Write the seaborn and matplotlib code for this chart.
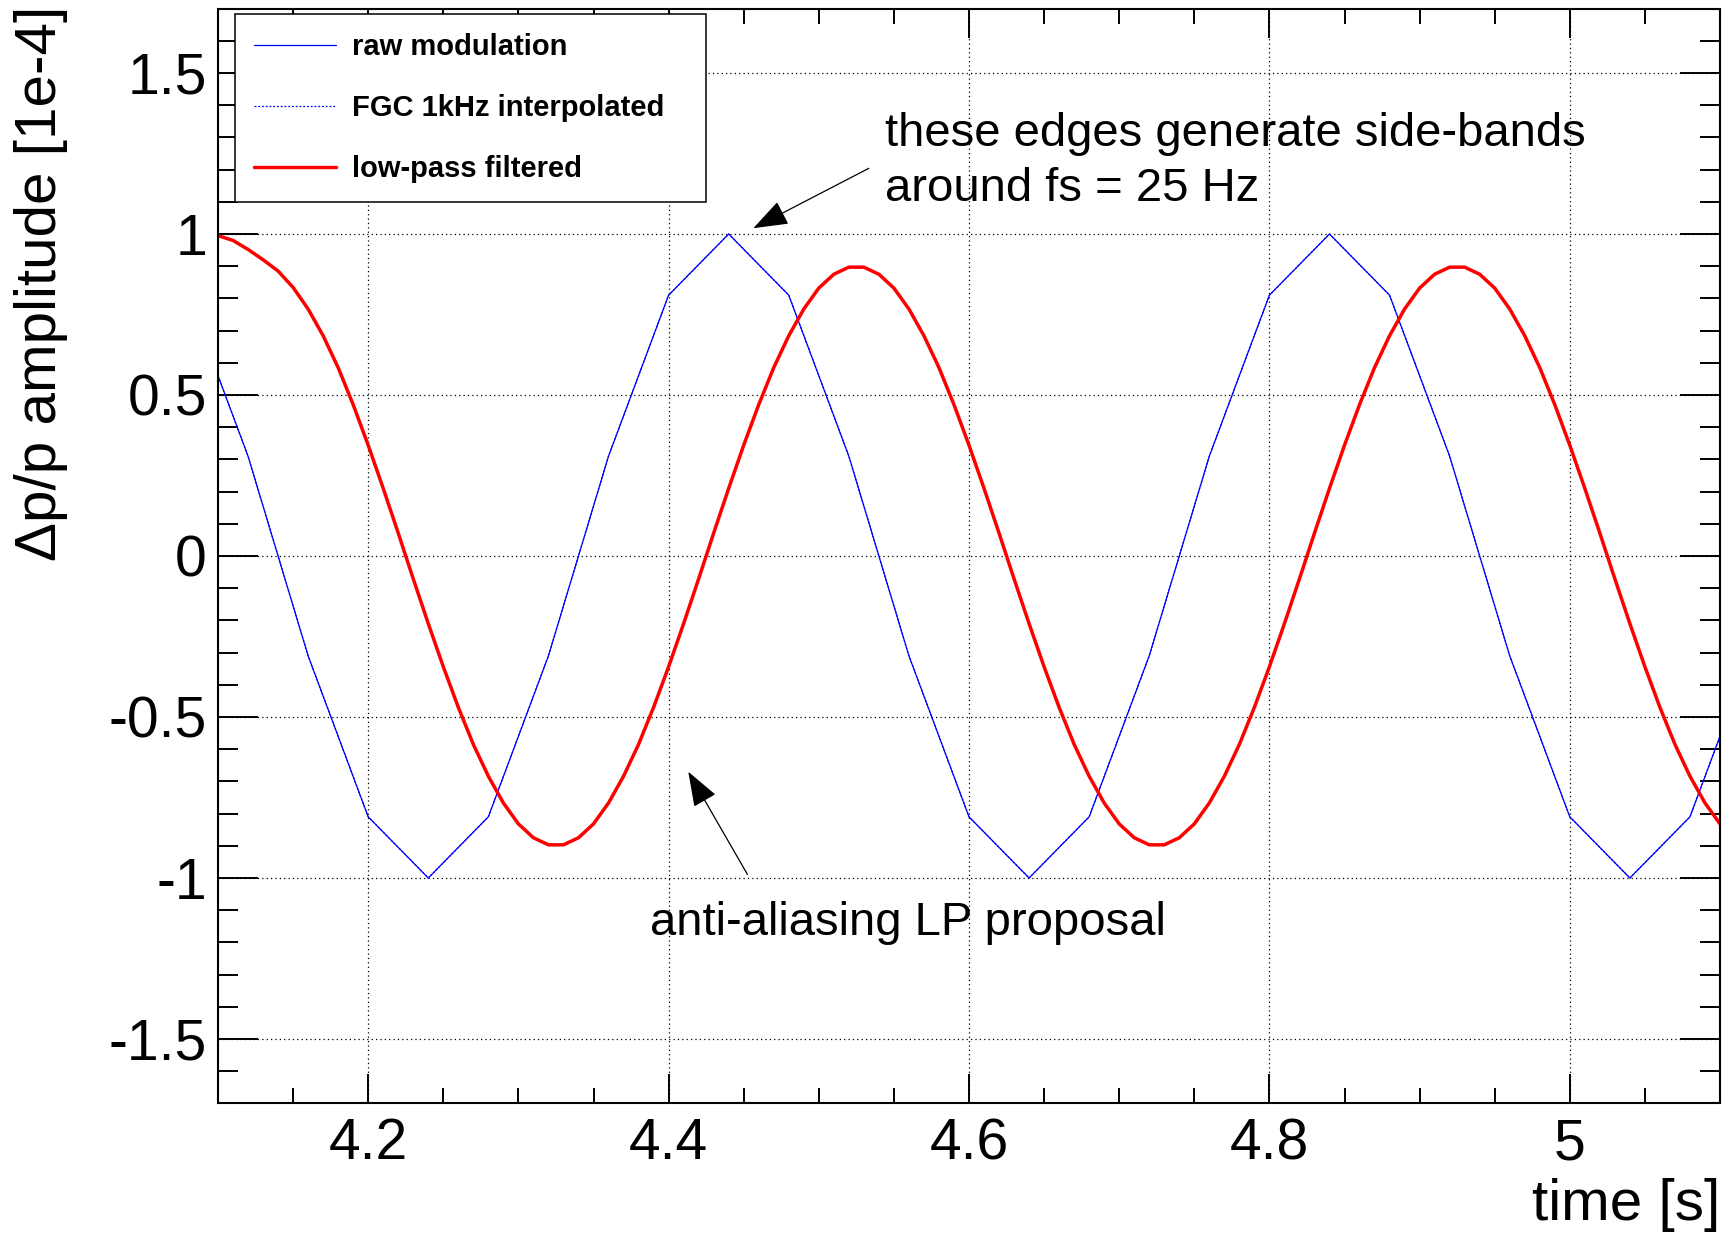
import numpy as np
import pandas as pd
import matplotlib
matplotlib.use("Agg")
import matplotlib.pyplot as plt
import seaborn as sns
from matplotlib.ticker import MultipleLocator, FuncFormatter

# ---------------- data ----------------
# raw modulation: 2.5 Hz sine sampled at 25 Hz, linearly joined
raw_time = [4.08, 4.12, 4.16, 4.20, 4.24, 4.28, 4.32, 4.36, 4.40, 4.44,
            4.48, 4.52, 4.56, 4.60, 4.64, 4.68, 4.72, 4.76, 4.80, 4.84,
            4.88, 4.92, 4.96, 5.00, 5.04, 5.08, 5.12]
raw_mod = [0.81, 0.31, -0.31, -0.81, -1.00, -0.81, -0.31, 0.31, 0.81, 1.00,
           0.81, 0.31, -0.31, -0.81, -1.00, -0.81, -0.31, 0.31, 0.81, 1.00,
           0.81, 0.31, -0.31, -0.81, -1.00, -0.81, -0.31]

# low-pass filtered signal, sampled every 10 ms from 4.10 s to 5.10 s
lp_time = np.round(np.arange(4.10, 5.1001, 0.01), 2)
lp_vals = [0.995, 0.980, 0.952, 0.920, 0.885, 0.834, 0.767, 0.684, 0.585, 0.470,
           0.344, 0.210, 0.071, -0.071, -0.210, -0.344, -0.470, -0.585, -0.684, -0.767,
           -0.832, -0.875, -0.897, -0.897, -0.875, -0.832, -0.767, -0.684, -0.585, -0.470,
           -0.344, -0.210, -0.071, 0.071, 0.210, 0.344, 0.470, 0.585, 0.684, 0.767,
           0.832, 0.875, 0.897, 0.897, 0.875, 0.832, 0.767, 0.684, 0.585, 0.470,
           0.344, 0.210, 0.071, -0.071, -0.210, -0.344, -0.470, -0.585, -0.684, -0.767,
           -0.832, -0.875, -0.897, -0.897, -0.875, -0.832, -0.767, -0.684, -0.585, -0.470,
           -0.344, -0.210, -0.071, 0.071, 0.210, 0.344, 0.470, 0.585, 0.684, 0.767,
           0.832, 0.875, 0.897, 0.897, 0.875, 0.832, 0.767, 0.684, 0.585, 0.470,
           0.344, 0.210, 0.071, -0.071, -0.210, -0.344, -0.470, -0.585, -0.684, -0.767,
           -0.832]

series_labels = ["raw modulation", "FGC 1kHz interpolated", "low-pass filtered"]
x_label = "time [s]"
y_label = "Δp/p amplitude [1e-4]"
note_top = ["these edges generate side-bands", "around fs = 25 Hz"]
note_bottom = "anti-aliasing LP proposal"

# ---------------- style ----------------
sns.set_theme(style="ticks")
plt.rcParams["font.family"] = ["Liberation Sans", "DejaVu Sans"]
plt.rcParams["axes.unicode_minus"] = False
plt.rcParams["text.color"] = "black"
plt.rcParams["axes.labelcolor"] = "black"
plt.rcParams["xtick.color"] = "black"
plt.rcParams["ytick.color"] = "black"

W, H = 1735, 1236
fig = plt.figure(figsize=(W / 100, H / 100), dpi=100)
fig.patch.set_facecolor("white")
L, R, T, B = 218, 1720, 8.6, 1103.4
ax = fig.add_axes([L / W, 1 - B / H, (R - L) / W, (B - T) / H])
ax.set_facecolor("white")

raw_df = pd.DataFrame({"t": raw_time, "v": raw_mod})
lp_df = pd.DataFrame({"t": lp_time, "v": lp_vals})

sns.lineplot(data=raw_df, x="t", y="v", ax=ax, color="#0000ff", lw=0.9,
             label=series_labels[0], sort=False, estimator=None)
sns.lineplot(data=raw_df, x="t", y="v", ax=ax, color="#0000ff", lw=0.9,
             linestyle=(0, (1.5, 1.5)), label=series_labels[1], sort=False,
             estimator=None)
sns.lineplot(data=lp_df, x="t", y="v", ax=ax, color="#ff0000", lw=2.5,
             label=series_labels[2], sort=False, estimator=None)

ax.set_xlim(4.1, 5.1)
ax.set_ylim(-1.7, 1.7)

ax.xaxis.set_major_locator(MultipleLocator(0.2))
ax.xaxis.set_minor_locator(MultipleLocator(0.05))
ax.yaxis.set_major_locator(MultipleLocator(0.5))
ax.yaxis.set_minor_locator(MultipleLocator(0.1))
fmt = FuncFormatter(lambda v, p: "%g" % round(v, 3))
ax.xaxis.set_major_formatter(fmt)
ax.yaxis.set_major_formatter(fmt)

ax.grid(True, which="major", color="black", linestyle=(0, (1, 2.5)), linewidth=0.9)
ax.set_axisbelow(True)

for s in ax.spines.values():
    s.set_color("black")
    s.set_linewidth(1.5)

ax.tick_params(which="both", direction="in", top=True, right=True,
               color="black", width=1.4)
ax.tick_params(axis="x", which="major", length=21, labelsize=41, pad=10)
ax.tick_params(axis="x", which="minor", length=11)
ax.tick_params(axis="y", which="major", length=29, labelsize=41, pad=8)
ax.tick_params(axis="y", which="minor", length=14.5)

ax.set_xlabel(x_label, fontsize=42, loc="right")
ax.xaxis.set_label_coords(1.0, -0.068)
ax.set_ylabel(y_label, fontsize=42, loc="top")
ax.yaxis.set_label_coords(-0.0999, 1.003)

# legend
leg_h = 0.01
leg_top = (B - 14) / (B - T)
leg = ax.legend(loc="upper left",
                bbox_to_anchor=((235 - L) / (R - L), leg_top - leg_h,
                                (706 - 235) / (R - L), leg_h),
                mode="expand", fancybox=False, frameon=True, framealpha=1,
                edgecolor="black", prop={"weight": "bold", "size": 21},
                handlelength=2.8, handletextpad=0.55, labelspacing=1.13,
                borderpad=0.65, borderaxespad=0)
leg.get_frame().set_linewidth(1.1)

# annotations
ax.annotate("", xy=(4.4564, 1.018), xytext=(4.5333, 1.204),
            arrowprops=dict(arrowstyle="-|>,head_length=22,head_width=8",
                            mutation_scale=1, lw=0.9, color="black",
                            shrinkA=0, shrinkB=0))
ax.annotate("", xy=(4.4131, -0.670), xytext=(4.4525, -0.989),
            arrowprops=dict(arrowstyle="-|>,head_length=22,head_width=8",
                            mutation_scale=1, lw=0.9, color="black",
                            shrinkA=0, shrinkB=0))
ax.text(4.544, 1.273, note_top[0], fontsize=34, ha="left", va="baseline")
ax.text(4.544, 1.103, note_top[1], fontsize=34, ha="left", va="baseline")
ax.text(4.3876, -1.177, note_bottom, fontsize=34, ha="left", va="baseline")

fig.savefig("out.png", dpi=100, facecolor="white")
